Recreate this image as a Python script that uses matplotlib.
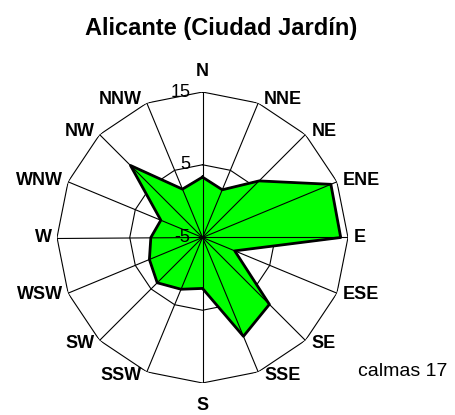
import numpy as np
import matplotlib
matplotlib.use("Agg")
import matplotlib.pyplot as plt

plt.rcParams['font.family'] = ['Liberation Sans', 'DejaVu Sans']

# datos de la rosa de vientos (frecuencia por rumbo)
rumbos = ["N", "NNE", "NE", "ENE", "E", "ESE", "SE", "SSE",
          "S", "SSW", "SW", "WSW", "W", "WNW", "NW", "NNW"]
frecuencia = [3.3, 2.1, 6.0, 14.1, 14.0, -0.2, 8.0, 9.7,
              2.0, 2.7, 3.8, 2.9, 2.1, 1.2, 9.0, 2.2]
anillos = [-5, 5, 15]
titulo = "Alicante (Ciudad Jardín)"
calmas = "calmas 17"

n = len(rumbos)
theta = np.arange(n) * 2 * np.pi / n
theta_c = np.append(theta, theta[0])

fig = plt.figure(figsize=(4.56, 4.15), dpi=100)
ax = fig.add_axes([57 / 456, 32 / 415, 291 / 456, 291 / 415], projection='polar')
ax.set_theta_zero_location('N')
ax.set_theta_direction(-1)
ax.set_ylim(anillos[0], anillos[-1])
ax.grid(False)
ax.spines['polar'].set_visible(False)
ax.set_xticks([])
ax.set_yticks([])

# anillos poligonales
for r in anillos[1:]:
    ax.plot(theta_c, [r] * (n + 1), color='black', lw=0.8, zorder=1)

# datos
vals = np.append(frecuencia, frecuencia[0])
ax.fill(theta_c, vals, color='#00FF00', zorder=2)

# radios
for t in theta:
    ax.plot([t, t], [anillos[0], anillos[-1]], color='black', lw=0.8, zorder=3)
ax.plot(theta_c, vals, color='black', lw=2, zorder=4)

# etiquetas de rumbos
for t, lab in zip(theta, rumbos):
    s, c = np.sin(t), np.cos(t)
    if abs(s) < 1e-6:
        if c > 0:
            off, ha, va = (0, 12), 'center', 'bottom'
        else:
            off, ha, va = (0, -14), 'center', 'top'
    else:
        off = (6 if s > 0 else -5, 4 * c)
        ha = 'left' if s > 0 else 'right'
        va = 'center'
    ax.annotate(lab, (t, anillos[-1]), xytext=off, textcoords='offset pixels',
                ha=ha, va=va, fontsize=13, fontweight='bold', annotation_clip=False)

# etiquetas de anillos
for r in anillos:
    ax.annotate(str(r), (0, r), xytext=(-12, 0), textcoords='offset pixels',
                ha='right', va='center', fontsize=13, zorder=5, annotation_clip=False)

fig.text(221 / 456, 1 - 28 / 415, titulo, ha='center', va='center',
         fontsize=17, fontweight='bold')
fig.text(403 / 456, 1 - 371 / 415, calmas, ha='center', va='center', fontsize=14)

fig.savefig("out.png", dpi=100)
